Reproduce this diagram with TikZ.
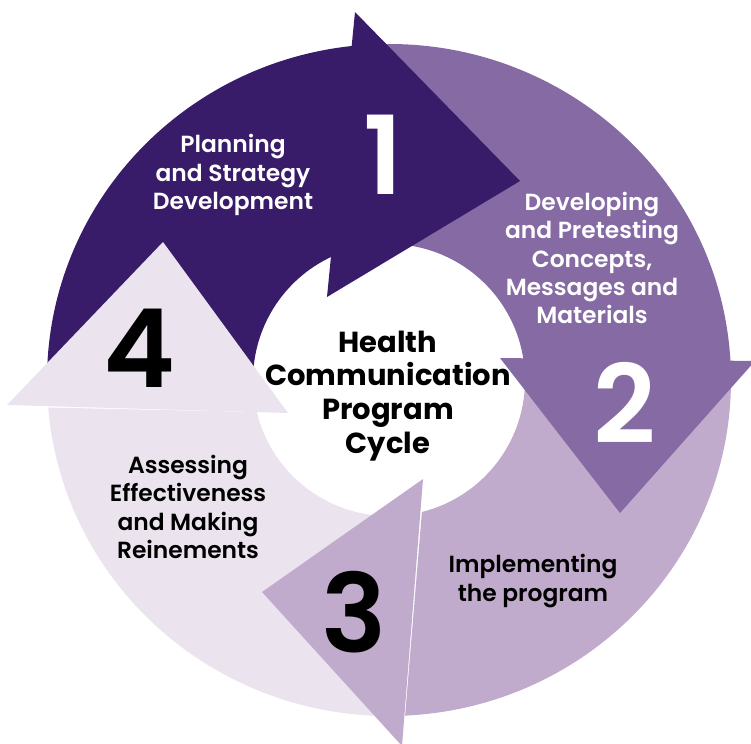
\documentclass[tikz,border=0pt]{standalone}
\usepackage{fontspec}
\setmainfont{Poppins}
\newfontfamily\medfont{Poppins SemiBold}
\usetikzlibrary{calc}

\definecolor{stepone}{HTML}{381C69}
\definecolor{steptwo}{HTML}{856AA4}
\definecolor{stepthree}{HTML}{C1ABCC}
\definecolor{stepfour}{HTML}{EBE4EF}

\begin{document}
\begin{tikzpicture}[x=0.02cm, y=-0.02cm,
		steptext/.style={align=center, font=\medfont\fontsize{13.3}{16.2}\selectfont},
		stepnum/.style={font=\medfont\fontsize{62}{62}\selectfont}]
		
		\useasboundingbox (0,0) rectangle (751,744);
		\coordinate (hub) at (389,380);
		
		% ring pieces: colour / outer start / outer end / inner end
		\foreach \c/\a/\b/\i in {stepone/180/264/245, steptwo/-92/-3/-8.7, stepthree/-1/87.3/76, stepfour/90/175.3/166.4} {
			\fill[\c] ($(hub)+(\a:342 and 336)$) arc[start angle=\a, end angle=\b, x radius=342, y radius=336]
				-- ($(hub)+(\i:136)$) arc[start angle=\i, end angle=\a, radius=136] -- cycle;
		}
		
		% arrow heads
		\fill[stepone] (355,12) -- (520,181) -- (327,297) -- cycle;
		\fill[steptwo] (500,358) -- (755,361) -- (620,513) -- cycle;
		\fill[stepthree] (423,479) -- (262,592) -- (402,746) -- cycle;
		\fill[stepfour] (288,413) -- (163,242) -- (7,405) -- cycle;
		
		\node (plan) at (233,175) [steptext, white] {Planning\\and Strategy\\Development};
		\node (one) at (383,155) [stepnum, white] {1};
		\node (dev) at (592,258) [steptext, white] {Developing\\and Pretesting\\Concepts,\\Messages and\\Materials};
		\node (two) at (625,403) [stepnum, white] {2};
		\node (impl) at (533,581) [steptext] {Implementing\\the program};
		\node (three) at (354,612) [stepnum] {3};
		\node (assess) at (188,507) [steptext] {Assessing\\Effectiveness\\and Making\\Reinements};
		\node (four) at (140,348) [stepnum] {4};
		
		\node (cycle) at (388,396) [align=center, font=\bfseries\fontsize{16.5}{19.3}\selectfont] {Health\\Communication\\Program\\Cycle};
		
	\end{tikzpicture}
\end{document}
